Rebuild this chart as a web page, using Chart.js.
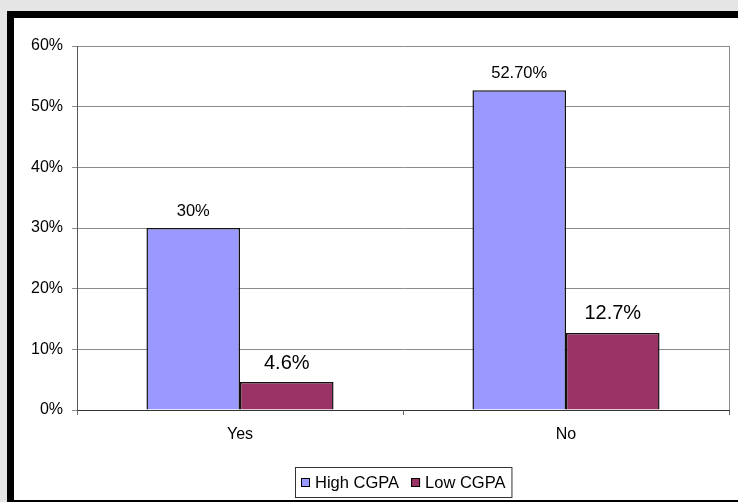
<!DOCTYPE html>
<html>
<head>
<meta charset="utf-8">
<script src="https://cdn.jsdelivr.net/npm/chart.js@4"></script>
<style>
  body { margin: 0; background: #e5e5e5; overflow: hidden; }
  #frame {
    position: absolute; left: 7px; top: 11px;
    width: 740px; height: 482px;
    border: 7px solid #000; border-right: none;
    background: #fff;
  }
  #wrap { position: absolute; left: 0; top: 0; width: 724px; height: 482px; }
</style>
</head>
<body>
<div id="frame"><div id="wrap"><canvas id="chart"></canvas></div></div>
<script>
// Chart data
const categories = ['Yes', 'No'];
const highCgpa = [30, 52.7];
const lowCgpa = [4.6, 12.7];
const highLabels = ['30%', '52.70%'];
const lowLabels = ['4.6%', '12.7%'];
const yTicks = [0, 10, 20, 30, 40, 50, 60];

const FONT = '"Liberation Sans", Arial, sans-serif';

// value labels above bars
const valueLabels = {
    id: 'valueLabels',
    afterDatasetsDraw(chart) {
        const ctx = chart.ctx;
        const texts = [highLabels, lowLabels];
        const sizes = [16.5, 20];
        ctx.save();
        ctx.fillStyle = '#000';
        ctx.textAlign = 'center';
        ctx.textBaseline = 'middle';
        chart.data.datasets.forEach((ds, di) => {
            ctx.font = sizes[di] + 'px ' + FONT;
            chart.getDatasetMeta(di).data.forEach((bar, i) => {
                ctx.fillText(texts[di][i], bar.x, bar.y - (di === 0 ? 17 : 19));
            });
        });
        ctx.restore();
    }
};

// right border of plot area + boxed legend under the chart
const frameAndLegend = {
    id: 'frameAndLegend',
    afterDraw(chart) {
        const ctx = chart.ctx;
        const a = chart.chartArea;
        ctx.save();
        ctx.strokeStyle = '#8c8c8c';
        ctx.lineWidth = 1;
        ctx.beginPath();
        ctx.moveTo(Math.round(a.right) + 0.5, a.top);
        ctx.lineTo(Math.round(a.right) + 0.5, a.bottom);
        ctx.stroke();

        ctx.font = '16.5px ' + FONT;
        const items = chart.data.datasets.map(ds => ({
            text: ds.label, color: ds.backgroundColor, w: ctx.measureText(ds.label).width
        }));
        const pad = 6, sw = 9, gap = 5, between = 12;
        let total = pad * 2;
        items.forEach((it, i) => { total += sw + gap + it.w + (i ? between : 0); });
        const cx = (a.left + a.right) / 2;
        const left = Math.round(cx - total / 2);
        const top = Math.round(a.bottom + 57);
        const h = 30;
        ctx.strokeStyle = '#333';
        ctx.strokeRect(left + 0.5, top + 0.5, total, h);
        let x = left + pad;
        ctx.textBaseline = 'middle';
        ctx.textAlign = 'left';
        items.forEach((it, i) => {
            if (i) x += between;
            ctx.fillStyle = it.color;
            ctx.fillRect(x, top + 11, sw, sw);
            ctx.strokeStyle = '#000';
            ctx.strokeRect(x + 0.5, top + 11.5, sw - 1, sw - 1);
            x += sw + gap;
            ctx.fillStyle = '#000';
            ctx.fillText(it.text, x, top + h / 2 + 1);
            x += it.w;
        });
        ctx.restore();
    }
};

new Chart(document.getElementById('chart'), {
    type: 'bar',
    data: {
        labels: categories,
        datasets: [{
            label: 'High CGPA',
            data: highCgpa,
            backgroundColor: '#9999ff',
            borderColor: '#111',
            borderWidth: 1.5
        }, {
            label: 'Low CGPA',
            data: lowCgpa,
            backgroundColor: '#993366',
            borderColor: '#111',
            borderWidth: 1.5
        }]
    },
    options: {
        responsive: true,
        maintainAspectRatio: false,
        animation: false,
        categoryPercentage: 0.574,
        barPercentage: 1,
        layout: { padding: { top: 28, right: 9, left: 0, bottom: 0 } },
        plugins: {
            legend: { display: false },
            tooltip: { enabled: false }
        },
        scales: {
            x: {
                afterFit: s => { s.height = 90; },
                grid: { drawOnChartArea: false, drawTicks: true, tickLength: 5, color: '#666', offset: true },
                border: { color: '#333' },
                ticks: { color: '#000', font: { family: FONT, size: 16 }, padding: 10 }
            },
            y: {
                min: 0,
                max: 60,
                afterFit: s => { s.width = 63; },
                afterBuildTicks: s => { s.ticks = yTicks.map(v => ({ value: v })); },
                grid: { color: '#8c8c8c', tickLength: 5, drawTicks: true },
                border: { color: '#555' },
                ticks: {
                    color: '#000',
                    font: { family: FONT, size: 16 },
                    padding: 9,
                    callback: v => v + '%'
                }
            }
        }
    },
    plugins: [valueLabels, frameAndLegend]
});
</script>
</body>
</html>
